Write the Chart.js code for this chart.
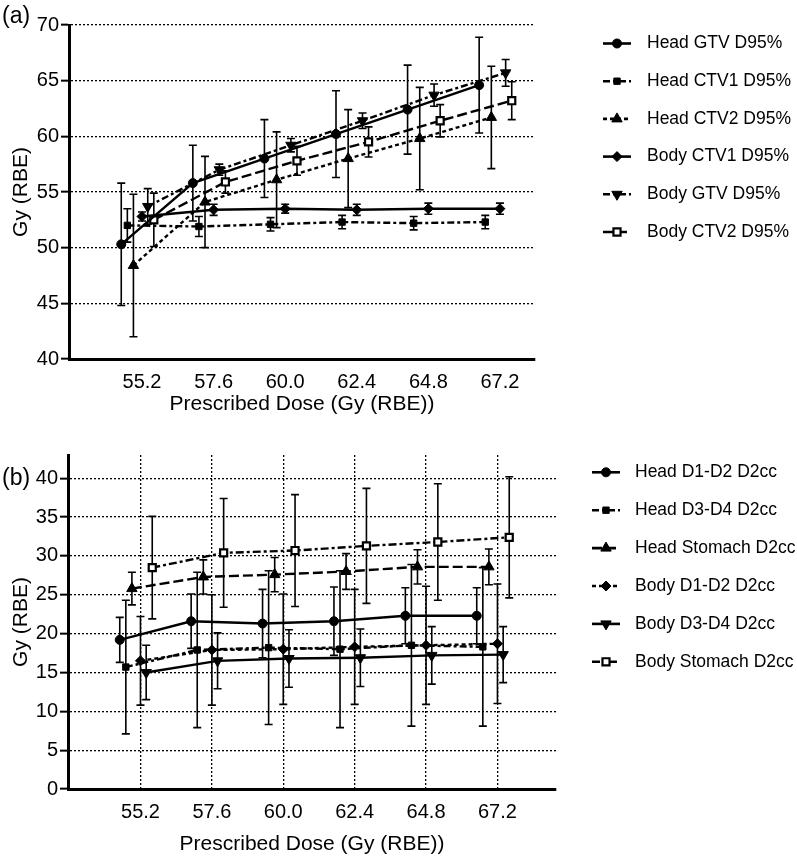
<!DOCTYPE html>
<html>
<head>
<meta charset="utf-8">
<script src="https://cdn.jsdelivr.net/npm/chart.js@4.4.1/dist/chart.umd.min.js"></script>
<style>
  body { margin: 0; background: #fff; width: 797px; height: 859px; position: relative; overflow: hidden;
         font-family: "Liberation Sans", Arial, sans-serif; }
  .panel { position: absolute; left: 0; }
  .tag { position: absolute; left: 2px; font-size: 23px; color: #000; line-height: 26px; }
</style>
</head>
<body>
<div class="panel" style="top:0"><canvas id="chartA" width="797" height="417"></canvas></div>
<div class="panel" style="top:418px"><canvas id="chartB" width="797" height="441"></canvas></div>
<div class="tag" style="top:2px">(a)</div>
<div class="tag" style="top:464px">(b)</div>
<script>
// categories (prescribed dose)
const doses = ['55.2', '57.6', '60.0', '62.4', '64.8', '67.2'];

// panel (a) target coverage
const labelsA = ['Head GTV D95%', 'Head CTV1 D95%', 'Head CTV2 D95%', 'Body CTV1 D95%', 'Body GTV D95%', 'Body CTV2 D95%'];
const headGTV     = [50.3, 55.8, 58.0, 60.2, 62.4, 64.6];
const headGTVErr  = [5.5, 3.4, 3.5, 3.9, 4.0, 4.3];
const headCTV1    = [52.0, 51.9, 52.1, 52.3, 52.2, 52.3];
const headCTV1Err = [1.5, 0.9, 0.6, 0.6, 0.6, 0.6];
const headCTV2    = [48.4, 54.1, 56.1, 58.0, 59.8, 61.7];
const headCTV2Err = [6.4, 4.1, 4.3, 4.4, 4.6, 4.6];
const bodyCTV1    = [52.8, 53.4, 53.5, 53.4, 53.5, 53.5];
const bodyCTV1Err = [0.4, 0.5, 0.4, 0.5, 0.5, 0.5];
const bodyGTV     = [53.7, 57.0, 59.2, 61.4, 63.7, 65.7];
const bodyGTVErr  = [1.6, 0.5, 0.6, 0.7, 1.0, 1.2];
const bodyCTV2    = [52.5, 55.9, 57.8, 59.5, 61.4, 63.2];
const bodyCTV2Err = [2.4, 1.0, 1.3, 1.35, 1.45, 1.7];

// panel (b) organs at risk
const labelsB = ['Head D1-D2 D2cc', 'Head D3-D4 D2cc', 'Head Stomach D2cc', 'Body D1-D2 D2cc', 'Body D3-D4 D2cc', 'Body Stomach D2cc'];
const headD12     = [19.2, 21.6, 21.3, 21.6, 22.3, 22.3];
const headD12Err  = [2.9, 3.5, 4.4, 4.4, 3.6, 3.6];
const headD34     = [15.7, 17.9, 18.2, 18.0, 18.5, 18.3];
const headD34Err  = [8.6, 10.0, 9.9, 10.1, 10.4, 10.2];
const headStom    = [25.8, 27.3, 27.6, 28.0, 28.6, 28.6];
const headStomErr = [2.1, 2.2, 2.2, 2.3, 2.2, 2.3];
const bodyD12     = [16.5, 17.9, 18.0, 18.3, 18.5, 18.7];
const bodyD12Err  = [5.7, 7.1, 7.1, 7.4, 7.6, 7.7];
const bodyD34     = [15.0, 16.5, 16.8, 16.9, 17.2, 17.3];
const bodyD34Err  = [3.5, 3.6, 3.7, 3.7, 3.7, 3.6];
const bodyStom    = [28.5, 30.4, 30.7, 31.3, 31.8, 32.4];
const bodyStomErr = [6.6, 7.0, 7.2, 7.4, 7.5, 7.8];

// horizontal nudge of each series inside a dose group (in category units)
const nudge = [-0.29, -0.205, -0.12, 0, 0.08, 0.165];

const FONT = '"Liberation Sans", Arial, sans-serif';

// marker + line look for each of the six series
const stylesA = [
  { dash: [], point: 'circle', r: 4.5, fill: '#000' },
  { dash: [7, 3, 3, 3], point: 'rect', r: 4.5, fill: '#000' },
  { dash: [4, 3], point: 'triangle', r: 6, fill: '#000' },
  { dash: [], point: 'rectRot', r: 5, fill: '#000' },
  { dash: [7, 3, 3, 3], point: 'triangle', r: 6, fill: '#000', rot: 180 },
  { dash: [10, 4], point: 'rect', r: 5, fill: '#fff' }
];
const stylesB = [
  { dash: [], point: 'circle', r: 4.5, fill: '#000' },
  { dash: [7, 3, 3, 3], point: 'rect', r: 4.5, fill: '#000' },
  { dash: [10, 4], point: 'triangle', r: 6, fill: '#000' },
  { dash: [4, 3], point: 'rectRot', r: 5, fill: '#000' },
  { dash: [], point: 'triangle', r: 6, fill: '#000', rot: 180 },
  { dash: [8, 3, 3, 3], point: 'rect', r: 5, fill: '#fff' }
];

function makeSets(labels, values, errs, styles) {
  return labels.map((label, k) => ({
    label: label,
    data: values[k].map((v, i) => ({ x: i + nudge[k], y: v })),
    err: errs[k],
    showLine: true,
    borderColor: '#000',
    borderWidth: 2.4,
    borderDash: styles[k].dash,
    tension: 0,
    pointStyle: styles[k].point,
    pointRadius: styles[k].r,
    pointHoverRadius: styles[k].r,
    pointRotation: styles[k].rot || 0,
    pointBackgroundColor: styles[k].fill,
    pointBorderColor: '#000',
    pointBorderWidth: styles[k].fill === '#fff' ? 2.2 : 1
  }));
}

const errorBars = {
  id: 'errorBars',
  beforeDatasetsDraw(chart) {
    const ctx = chart.ctx;
    const ys = chart.scales.y;
    chart.data.datasets.forEach((ds, k) => {
      const meta = chart.getDatasetMeta(k);
      ctx.save();
      ctx.strokeStyle = '#000';
      ctx.lineWidth = 1.6;
      ctx.setLineDash([]);
      meta.data.forEach((pt, i) => {
        const v = ds.data[i].y, e = ds.err[i];
        const top = ys.getPixelForValue(v + e);
        const bot = ys.getPixelForValue(v - e);
        ctx.beginPath();
        ctx.moveTo(pt.x, top); ctx.lineTo(pt.x, bot);
        ctx.moveTo(pt.x - 4, top); ctx.lineTo(pt.x + 4, top);
        ctx.moveTo(pt.x - 4, bot); ctx.lineTo(pt.x + 4, bot);
        ctx.stroke();
      });
      ctx.restore();
    });
  }
};

const sideLegend = {
  id: 'sideLegend',
  afterDraw(chart, args, opts) {
    const ctx = chart.ctx;
    chart.data.datasets.forEach((ds, k) => {
      const y = opts.top + k * opts.step;
      ctx.save();
      ctx.strokeStyle = '#000';
      ctx.lineWidth = 2.6;
      ctx.setLineDash(ds.borderDash);
      ctx.beginPath();
      ctx.moveTo(opts.x1, y); ctx.lineTo(opts.x2, y);
      ctx.stroke();
      ctx.setLineDash([]);
      ctx.fillStyle = ds.pointBackgroundColor;
      ctx.lineWidth = ds.pointBorderWidth;
      Chart.helpers.drawPoint(ctx, {
        pointStyle: ds.pointStyle, rotation: ds.pointRotation,
        radius: ds.pointRadius, borderWidth: ds.pointBorderWidth
      }, (opts.x1 + opts.x2) / 2, y);
      ctx.fillStyle = '#000';
      ctx.font = '17.5px ' + FONT;
      ctx.textAlign = 'left';
      ctx.textBaseline = 'middle';
      ctx.fillText(ds.label, opts.textX, y);
      ctx.restore();
    });
  }
};

function panel(id, sets, p) {
  return new Chart(document.getElementById(id), {
    type: 'scatter',
    data: { datasets: sets },
    plugins: [errorBars, sideLegend],
    options: {
      responsive: false,
      animation: false,
      layout: { padding: { top: p.top, right: p.right, left: 0, bottom: 0 } },
      plugins: {
        legend: { display: false },
        tooltip: { enabled: false },
        sideLegend: p.legend
      },
      scales: {
        x: {
          type: 'linear',
          min: p.xMin,
          max: p.xMax,
          afterBuildTicks: (s) => { s.ticks = doses.map((d, i) => ({ value: i })); },
          afterFit: (s) => { s.height = p.xH; },
          ticks: {
            autoSkip: false, maxRotation: 0, padding: 11, color: '#000',
            font: { family: FONT, size: 20 },
            callback: (v, i) => doses[i]
          },
          grid: { display: p.xGrid, drawOnChartArea: p.xGrid, drawTicks: false, color: '#000', lineWidth: 1.3 },
          border: { display: true, color: '#000', width: 3, dash: [2, 2] },
          title: {
            display: true, text: 'Prescribed Dose (Gy (RBE))', color: '#000',
            font: { family: FONT, size: 21 }, padding: { top: 0, bottom: p.titlePad }
          }
        },
        y: {
          min: p.yMin,
          max: p.yMax,
          afterBuildTicks: (s) => { s.ticks = s.ticks.filter(t => t.value % 5 === 0); },
          afterFit: (s) => { s.width = p.yW; },
          ticks: { stepSize: 5, padding: 2, color: '#000', font: { family: FONT, size: 20 } },
          grid: { color: '#000', lineWidth: 1.3, drawTicks: true, tickLength: 8, tickWidth: 2, tickColor: '#000' },
          border: { display: true, color: '#000', width: 3, dash: [2, 2] },
          title: {
            display: true, text: 'Gy (RBE)', color: '#000',
            font: { family: FONT, size: 21 }, padding: { top: 9, bottom: 0 }
          }
        }
      }
    }
  });
}

panel('chartA',
  makeSets(labelsA,
    [headGTV, headCTV1, headCTV2, bodyCTV1, bodyGTV, bodyCTV2],
    [headGTVErr, headCTV1Err, headCTV2Err, bodyCTV1Err, bodyGTVErr, bodyCTV2Err],
    stylesA),
  { top: 25, right: 262, xMin: -1.02, xMax: 5.49, xH: 58, yW: 69, yMin: 40, yMax: 70,
    xGrid: false, titlePad: 0,
    legend: { x1: 603, x2: 631, textX: 647, top: 43.5, step: 37.7 } });

panel('chartB',
  makeSets(labelsB,
    [headD12, headD34, headStom, bodyD12, bodyD34, bodyStom],
    [headD12Err, headD34Err, headStomErr, bodyD12Err, bodyD34Err, bodyStomErr],
    stylesB),
  { top: 37, right: 241, xMin: -1.015, xMax: 5.82, xH: 70, yW: 68, yMin: 0, yMax: 43,
    xGrid: true, titlePad: 2,
    legend: { x1: 592, x2: 620, textX: 635, top: 54.3, step: 37.9 } });
</script>
</body>
</html>
